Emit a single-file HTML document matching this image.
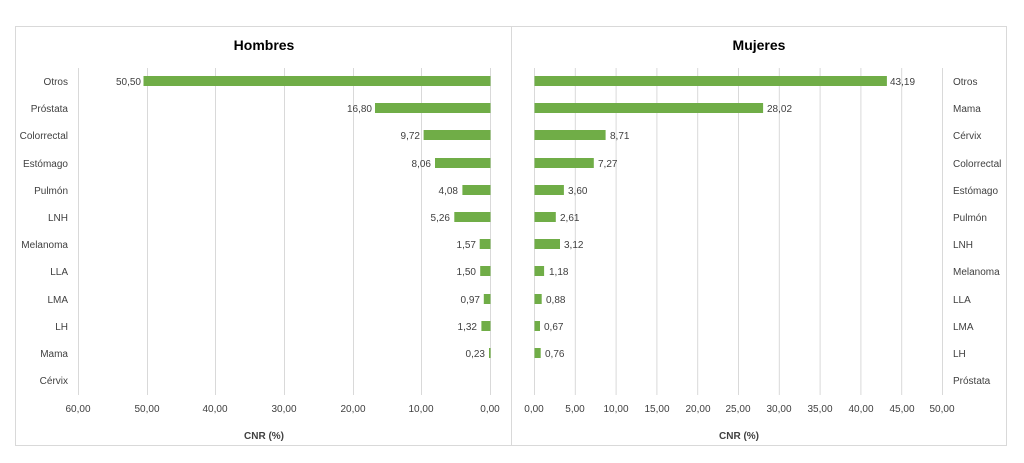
<!DOCTYPE html>
<html><head><meta charset="utf-8"><style>
html,body{margin:0;padding:0;background:#fff;}
svg{display:block;font-family:"Liberation Sans",Arial,sans-serif;}
</style></head><body>
<svg width="1024" height="463" xmlns="http://www.w3.org/2000/svg">
<rect x="15.5" y="26.5" width="991" height="419" fill="#fff" stroke="#d9d9d9"/>
<line x1="511.5" y1="26" x2="511.5" y2="446" stroke="#d9d9d9"/>
<text x="264" y="50" font-size="14" font-weight="bold" text-anchor="middle" fill="#000">Hombres</text>
<text x="759" y="50" font-size="14" font-weight="bold" text-anchor="middle" fill="#000">Mujeres</text>
<g stroke="#d9d9d9" stroke-width="1">
<line x1="78.5" y1="68" x2="78.5" y2="395"/><line x1="147.5" y1="68" x2="147.5" y2="395"/><line x1="215.5" y1="68" x2="215.5" y2="395"/><line x1="284.5" y1="68" x2="284.5" y2="395"/><line x1="353.5" y1="68" x2="353.5" y2="395"/><line x1="421.5" y1="68" x2="421.5" y2="395"/><line x1="490.5" y1="68" x2="490.5" y2="395"/>
<line x1="534.5" y1="68" x2="534.5" y2="395"/><line x1="575.3" y1="68" x2="575.3" y2="395"/><line x1="616.1" y1="68" x2="616.1" y2="395"/><line x1="656.9" y1="68" x2="656.9" y2="395"/><line x1="697.7" y1="68" x2="697.7" y2="395"/><line x1="738.5" y1="68" x2="738.5" y2="395"/><line x1="779.3" y1="68" x2="779.3" y2="395"/><line x1="820.1" y1="68" x2="820.1" y2="395"/><line x1="860.9" y1="68" x2="860.9" y2="395"/><line x1="901.7" y1="68" x2="901.7" y2="395"/><line x1="942.5" y1="68" x2="942.5" y2="395"/>
</g>
<g font-size="10" fill="#404040" text-anchor="middle">
<text x="78" y="412">60,00</text><text x="147" y="412">50,00</text><text x="215" y="412">40,00</text><text x="284" y="412">30,00</text><text x="353" y="412">20,00</text><text x="421" y="412">10,00</text><text x="490" y="412">0,00</text>
<text x="534" y="412">0,00</text><text x="575" y="412">5,00</text><text x="616" y="412">10,00</text><text x="657" y="412">15,00</text><text x="698" y="412">20,00</text><text x="738" y="412">25,00</text><text x="779" y="412">30,00</text><text x="820" y="412">35,00</text><text x="861" y="412">40,00</text><text x="902" y="412">45,00</text><text x="942" y="412">50,00</text>
</g>
<text x="264" y="439" font-size="10" font-weight="bold" text-anchor="middle" fill="#404040">CNR (%)</text>
<text x="739" y="439" font-size="10" font-weight="bold" text-anchor="middle" fill="#404040">CNR (%)</text>
<g font-size="10" fill="#404040" text-anchor="end">
<text x="68" y="85">Otros</text><text x="68" y="112">Próstata</text><text x="68" y="139">Colorrectal</text><text x="68" y="167">Estómago</text><text x="68" y="194">Pulmón</text><text x="68" y="221">LNH</text><text x="68" y="248">Melanoma</text><text x="68" y="275">LLA</text><text x="68" y="303">LMA</text><text x="68" y="330">LH</text><text x="68" y="357">Mama</text><text x="68" y="384">Cérvix</text>
</g>
<g font-size="10" fill="#404040" text-anchor="start">
<text x="953" y="85">Otros</text><text x="953" y="112">Mama</text><text x="953" y="139">Cérvix</text><text x="953" y="167">Colorrectal</text><text x="953" y="194">Estómago</text><text x="953" y="221">Pulmón</text><text x="953" y="248">LNH</text><text x="953" y="275">Melanoma</text><text x="953" y="303">LLA</text><text x="953" y="330">LMA</text><text x="953" y="357">LH</text><text x="953" y="384">Próstata</text>
</g>
<g fill="#70ad47">
<rect x="143.5" y="76" width="347" height="10"/>
<rect x="375" y="103" width="115.5" height="10"/>
<rect x="423.6" y="130" width="66.9" height="10"/>
<rect x="435" y="158" width="55.5" height="10"/>
<rect x="462.4" y="185" width="28.1" height="10"/>
<rect x="454.3" y="212" width="36.2" height="10"/>
<rect x="479.7" y="239" width="10.8" height="10"/>
<rect x="480.2" y="266" width="10.3" height="10"/>
<rect x="483.8" y="294" width="6.7" height="10"/>
<rect x="481.4" y="321" width="9.1" height="10"/>
<rect x="489" y="348" width="1.6" height="10"/>
<rect x="534.5" y="76" width="352.4" height="10"/>
<rect x="534.5" y="103" width="228.6" height="10"/>
<rect x="534.5" y="130" width="71.1" height="10"/>
<rect x="534.5" y="158" width="59.3" height="10"/>
<rect x="534.5" y="185" width="29.4" height="10"/>
<rect x="534.5" y="212" width="21.3" height="10"/>
<rect x="534.5" y="239" width="25.5" height="10"/>
<rect x="534.5" y="266" width="9.6" height="10"/>
<rect x="534.5" y="294" width="7.2" height="10"/>
<rect x="534.5" y="321" width="5.5" height="10"/>
<rect x="534.5" y="348" width="6.2" height="10"/>
</g>
<g font-size="10" fill="#404040" text-anchor="end">
<text x="141" y="85">50,50</text><text x="372" y="112">16,80</text><text x="420" y="139">9,72</text><text x="431" y="167">8,06</text><text x="458" y="194">4,08</text><text x="450" y="221">5,26</text><text x="476" y="248">1,57</text><text x="476" y="275">1,50</text><text x="480" y="303">0,97</text><text x="477" y="330">1,32</text><text x="485" y="357">0,23</text>
</g>
<g font-size="10" fill="#404040" text-anchor="start">
<text x="890" y="85">43,19</text><text x="767" y="112">28,02</text><text x="610" y="139">8,71</text><text x="598" y="167">7,27</text><text x="568" y="194">3,60</text><text x="560" y="221">2,61</text><text x="564" y="248">3,12</text><text x="549" y="275">1,18</text><text x="546" y="303">0,88</text><text x="544" y="330">0,67</text><text x="545" y="357">0,76</text>
</g>
</svg>
</body></html>
